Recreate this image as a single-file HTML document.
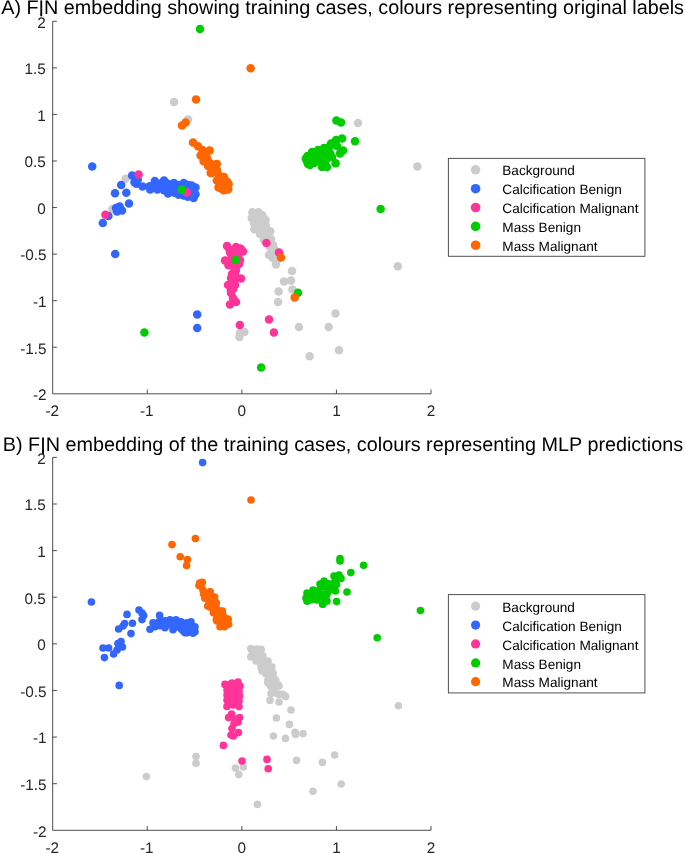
<!DOCTYPE html>
<html><head><meta charset="utf-8"><title>FIN embedding</title>
<style>
html,body{margin:0;padding:0;background:#fff;}
body{width:685px;height:853px;overflow:hidden;}
svg{display:block;font-family:"Liberation Sans",sans-serif;text-rendering:geometricPrecision;will-change:transform;}
</style></head><body>
<svg width="685" height="853" viewBox="0 0 685 853">
<rect width="685" height="853" fill="#fff"/>
<text x="1.2" y="14.3" font-size="19.8" fill="#000">A) FIN embedding showing training cases, colours representing original labels</text>
<text x="2.8" y="450.9" font-size="19.8" fill="#000">B) FIN embedding of the training cases, colours representing MLP predictions</text>
<path d="M41.2 13.5V16.3" stroke="#000" stroke-width="1.9"/><path d="M43.0 450V454.2" stroke="#000" stroke-width="1.9"/>
<g stroke="#4d4d4d" stroke-width="1" fill="none" shape-rendering="auto">
<path d="M52.7 21.3V393.8H431"/>
<path d="M52.7 21.30h4.2"/>
<path d="M52.7 67.86h4.2"/>
<path d="M52.7 114.42h4.2"/>
<path d="M52.7 160.99h4.2"/>
<path d="M52.7 207.55h4.2"/>
<path d="M52.7 254.11h4.2"/>
<path d="M52.7 300.68h4.2"/>
<path d="M52.7 347.24h4.2"/>
<path d="M147.28 393.8v-4.2"/>
<path d="M241.85 393.8v-4.2"/>
<path d="M336.43 393.8v-4.2"/>
<path d="M431.00 393.8v-4.2"/>
</g>
<g fill="#262626" font-size="15.3" text-anchor="end">
<text x="45.8" y="27.60">2</text>
<text x="45.8" y="74.16">1.5</text>
<text x="45.8" y="120.72">1</text>
<text x="45.8" y="167.29">0.5</text>
<text x="45.8" y="213.85">0</text>
<text x="46.6" y="260.41">-0.5</text>
<text x="46.6" y="306.98">-1</text>
<text x="46.6" y="353.54">-1.5</text>
<text x="46.6" y="400.10">-2</text>
</g>
<g fill="#262626" font-size="15.3" text-anchor="middle">
<text x="52.20" y="416.2">-2</text>
<text x="146.78" y="416.2">-1</text>
<text x="241.85" y="416.2">0</text>
<text x="336.43" y="416.2">1</text>
<text x="431.00" y="416.2">2</text>
</g>
<g stroke="#4d4d4d" stroke-width="1" fill="none" shape-rendering="auto">
<path d="M52.7 457.4V830.3H431"/>
<path d="M52.7 457.40h4.2"/>
<path d="M52.7 504.01h4.2"/>
<path d="M52.7 550.62h4.2"/>
<path d="M52.7 597.24h4.2"/>
<path d="M52.7 643.85h4.2"/>
<path d="M52.7 690.46h4.2"/>
<path d="M52.7 737.07h4.2"/>
<path d="M52.7 783.69h4.2"/>
<path d="M147.28 830.3v-4.2"/>
<path d="M241.85 830.3v-4.2"/>
<path d="M336.43 830.3v-4.2"/>
<path d="M431.00 830.3v-4.2"/>
</g>
<g fill="#262626" font-size="15.3" text-anchor="end">
<text x="45.8" y="463.70">2</text>
<text x="45.8" y="510.31">1.5</text>
<text x="45.8" y="556.92">1</text>
<text x="45.8" y="603.54">0.5</text>
<text x="45.8" y="650.15">0</text>
<text x="46.6" y="696.76">-0.5</text>
<text x="46.6" y="743.37">-1</text>
<text x="46.6" y="789.99">-1.5</text>
<text x="46.6" y="836.60">-2</text>
</g>
<g fill="#262626" font-size="15.3" text-anchor="middle">
<text x="52.20" y="852.6">-2</text>
<text x="146.78" y="852.6">-1</text>
<text x="241.85" y="852.6">0</text>
<text x="336.43" y="852.6">1</text>
<text x="431.00" y="852.6">2</text>
</g>
<!-- plot A -->
<g fill="#cccccc">
<circle cx="174" cy="102" r="4.25"/><circle cx="188" cy="119.4" r="4.25"/><circle cx="125.7" cy="178.8" r="4.25"/><circle cx="112.4" cy="209" r="4.25"/><circle cx="358" cy="123" r="4.25"/><circle cx="417.4" cy="166.4" r="4.25"/><circle cx="397.8" cy="266.2" r="4.25"/><circle cx="253" cy="213" r="4.25"/><circle cx="258" cy="213" r="4.25"/><circle cx="262" cy="215" r="4.25"/><circle cx="252" cy="218" r="4.25"/><circle cx="257" cy="219" r="4.25"/><circle cx="263" cy="220" r="4.25"/><circle cx="254" cy="223" r="4.25"/><circle cx="260" cy="224" r="4.25"/><circle cx="266" cy="226" r="4.25"/><circle cx="258" cy="229" r="4.25"/><circle cx="263" cy="230" r="4.25"/><circle cx="269" cy="232" r="4.25"/><circle cx="260" cy="234" r="4.25"/><circle cx="266" cy="236" r="4.25"/><circle cx="271" cy="239" r="4.25"/><circle cx="268" cy="242" r="4.25"/><circle cx="273" cy="245" r="4.25"/><circle cx="275" cy="250" r="4.25"/><circle cx="269" cy="255" r="4.25"/><circle cx="273" cy="258" r="4.25"/><circle cx="277" cy="260" r="4.25"/><circle cx="276" cy="264.4" r="4.25"/><circle cx="272" cy="251" r="4.25"/><circle cx="270" cy="247" r="4.25"/><circle cx="264" cy="240" r="4.25"/><circle cx="292" cy="271" r="4.25"/><circle cx="284" cy="281.6" r="4.25"/><circle cx="291" cy="280.6" r="4.25"/><circle cx="278.6" cy="291.6" r="4.25"/><circle cx="292.4" cy="289.4" r="4.25"/><circle cx="278" cy="302" r="4.25"/><circle cx="335.5" cy="313.4" r="4.25"/><circle cx="299" cy="327" r="4.25"/><circle cx="328.7" cy="327" r="4.25"/><circle cx="244.4" cy="332" r="4.25"/><circle cx="240" cy="333" r="4.25"/><circle cx="239.4" cy="337" r="4.25"/><circle cx="339" cy="350.2" r="4.25"/><circle cx="309.6" cy="356.2" r="4.25"/><circle cx="252.4" cy="212.2" r="4.25"/><circle cx="258.4" cy="212.2" r="4.25"/><circle cx="262.3" cy="215.5" r="4.25"/><circle cx="251.8" cy="218.1" r="4.25"/><circle cx="265.6" cy="220.1" r="4.25"/><circle cx="254.4" cy="229.3" r="4.25"/><circle cx="270.2" cy="231.3" r="4.25"/>
</g>
<g fill="#3366ff">
<circle cx="92.2" cy="166.4" r="4.25"/><circle cx="132.1" cy="175.5" r="4.25"/><circle cx="137.8" cy="179.5" r="4.25"/><circle cx="134.5" cy="182.3" r="4.25"/><circle cx="136.2" cy="183.7" r="4.25"/><circle cx="121.2" cy="185.1" r="4.25"/><circle cx="115" cy="193.2" r="4.25"/><circle cx="126.3" cy="192.8" r="4.25"/><circle cx="129" cy="203.5" r="4.25"/><circle cx="116" cy="208" r="4.25"/><circle cx="119.6" cy="206.4" r="4.25"/><circle cx="122" cy="210.6" r="4.25"/><circle cx="117" cy="211.6" r="4.25"/><circle cx="119" cy="209.6" r="4.25"/><circle cx="108.4" cy="216" r="4.25"/><circle cx="102.8" cy="223" r="4.25"/><circle cx="115.2" cy="254" r="4.25"/><circle cx="142.5" cy="186.4" r="4.25"/><circle cx="149.6" cy="186.3" r="4.25"/><circle cx="150.2" cy="189.6" r="4.25"/><circle cx="154.8" cy="181" r="4.25"/><circle cx="154.8" cy="186.3" r="4.25"/><circle cx="157.4" cy="189.6" r="4.25"/><circle cx="159.4" cy="183.7" r="4.25"/><circle cx="164" cy="180.4" r="4.25"/><circle cx="164" cy="185.6" r="4.25"/><circle cx="164" cy="190.2" r="4.25"/><circle cx="168" cy="183.7" r="4.25"/><circle cx="168" cy="193.5" r="4.25"/><circle cx="170.6" cy="188.2" r="4.25"/><circle cx="173.9" cy="183" r="4.25"/><circle cx="173.9" cy="188.9" r="4.25"/><circle cx="174.5" cy="192.8" r="4.25"/><circle cx="178.5" cy="185" r="4.25"/><circle cx="178.5" cy="194.8" r="4.25"/><circle cx="183.7" cy="183" r="4.25"/><circle cx="183.7" cy="195.5" r="4.25"/><circle cx="188.3" cy="185" r="4.25"/><circle cx="187.7" cy="196.8" r="4.25"/><circle cx="191.6" cy="185.6" r="4.25"/><circle cx="192.3" cy="190.9" r="4.25"/><circle cx="193.6" cy="198.1" r="4.25"/><circle cx="195.5" cy="187.6" r="4.25"/><circle cx="195.5" cy="194.2" r="4.25"/><circle cx="191" cy="194.2" r="4.25"/><circle cx="181" cy="189" r="4.25"/><circle cx="186" cy="190" r="4.25"/><circle cx="160" cy="187" r="4.25"/><circle cx="197.2" cy="314.4" r="4.25"/><circle cx="197.2" cy="328" r="4.25"/><circle cx="231" cy="290.7" r="4.25"/>
</g>
<g fill="#ff3399">
<circle cx="138.6" cy="174.6" r="4.25"/><circle cx="105.4" cy="214.8" r="4.25"/><circle cx="187" cy="192.4" r="4.25"/><circle cx="266.4" cy="243" r="4.25"/><circle cx="279" cy="252.4" r="4.25"/><circle cx="227" cy="246" r="4.25"/><circle cx="236" cy="247" r="4.25"/><circle cx="241" cy="249" r="4.25"/><circle cx="243" cy="251.6" r="4.25"/><circle cx="230" cy="252.4" r="4.25"/><circle cx="238" cy="254" r="4.25"/><circle cx="225" cy="260.4" r="4.25"/><circle cx="230" cy="260" r="4.25"/><circle cx="240" cy="260" r="4.25"/><circle cx="235" cy="258" r="4.25"/><circle cx="239" cy="264" r="4.25"/><circle cx="233" cy="266" r="4.25"/><circle cx="236" cy="270" r="4.25"/><circle cx="232" cy="274" r="4.25"/><circle cx="231" cy="278" r="4.25"/><circle cx="241" cy="278.6" r="4.25"/><circle cx="236" cy="279" r="4.25"/><circle cx="232" cy="282" r="4.25"/><circle cx="228" cy="285" r="4.25"/><circle cx="235" cy="285" r="4.25"/><circle cx="233" cy="289" r="4.25"/><circle cx="231" cy="293" r="4.25"/><circle cx="233" cy="298" r="4.25"/><circle cx="236" cy="302" r="4.25"/><circle cx="230" cy="304.4" r="4.25"/><circle cx="234" cy="262" r="4.25"/><circle cx="235" cy="275" r="4.25"/><circle cx="234.7" cy="249.7" r="4.25"/><circle cx="229.5" cy="249.7" r="4.25"/><circle cx="240" cy="248.4" r="4.25"/><circle cx="234.7" cy="268" r="4.25"/><circle cx="269" cy="319.4" r="4.25"/><circle cx="239.8" cy="325" r="4.25"/><circle cx="273.9" cy="332.5" r="4.25"/><circle cx="228.5" cy="265.3" r="4.25"/>
</g>
<g fill="#00cc00">
<circle cx="200" cy="29" r="4.25"/><circle cx="181.7" cy="189.4" r="4.25"/><circle cx="235.4" cy="260" r="4.25"/><circle cx="298" cy="292.7" r="4.25"/><circle cx="144.4" cy="332.4" r="4.25"/><circle cx="261.1" cy="367.4" r="4.25"/><circle cx="380.6" cy="208.9" r="4.25"/><circle cx="336.4" cy="120.4" r="4.25"/><circle cx="341" cy="122.4" r="4.25"/><circle cx="355" cy="141.2" r="4.25"/><circle cx="342" cy="138.4" r="4.25"/><circle cx="336" cy="140" r="4.25"/><circle cx="333" cy="144" r="4.25"/><circle cx="343" cy="150.6" r="4.25"/><circle cx="340" cy="153.4" r="4.25"/><circle cx="335.6" cy="163.2" r="4.25"/><circle cx="307.5" cy="156" r="4.25"/><circle cx="306.8" cy="161" r="4.25"/><circle cx="308" cy="164" r="4.25"/><circle cx="312" cy="152" r="4.25"/><circle cx="313" cy="158" r="4.25"/><circle cx="314" cy="163" r="4.25"/><circle cx="318" cy="150" r="4.25"/><circle cx="319" cy="156" r="4.25"/><circle cx="320" cy="162" r="4.25"/><circle cx="322" cy="167" r="4.25"/><circle cx="324" cy="148" r="4.25"/><circle cx="325" cy="154" r="4.25"/><circle cx="326" cy="160" r="4.25"/><circle cx="327" cy="167" r="4.25"/><circle cx="330" cy="146" r="4.25"/><circle cx="330" cy="153" r="4.25"/><circle cx="332" cy="157" r="4.25"/><circle cx="335" cy="142" r="4.25"/><circle cx="337" cy="146" r="4.25"/><circle cx="305.8" cy="158.5" r="4.25"/><circle cx="310" cy="165" r="4.25"/><circle cx="331" cy="143.5" r="4.25"/>
</g>
<g fill="#ff6600">
<circle cx="250.6" cy="68.2" r="4.25"/><circle cx="196" cy="99.4" r="4.25"/><circle cx="185.6" cy="122.4" r="4.25"/><circle cx="182" cy="125.6" r="4.25"/><circle cx="281" cy="257.5" r="4.25"/><circle cx="294.7" cy="297.6" r="4.25"/><circle cx="193" cy="142.6" r="4.25"/><circle cx="198" cy="146.2" r="4.25"/><circle cx="202.4" cy="150" r="4.25"/><circle cx="209.6" cy="150.6" r="4.25"/><circle cx="202" cy="155" r="4.25"/><circle cx="207" cy="158" r="4.25"/><circle cx="210" cy="163" r="4.25"/><circle cx="216" cy="164.4" r="4.25"/><circle cx="212" cy="169" r="4.25"/><circle cx="217" cy="170" r="4.25"/><circle cx="212" cy="173" r="4.25"/><circle cx="219" cy="175" r="4.25"/><circle cx="224" cy="177" r="4.25"/><circle cx="218" cy="180" r="4.25"/><circle cx="227" cy="181.6" r="4.25"/><circle cx="220" cy="186" r="4.25"/><circle cx="226" cy="187" r="4.25"/><circle cx="228" cy="185" r="4.25"/><circle cx="222" cy="189" r="4.25"/><circle cx="227" cy="189.6" r="4.25"/><circle cx="206" cy="153" r="4.25"/><circle cx="214" cy="167" r="4.25"/><circle cx="222" cy="181" r="4.25"/><circle cx="224" cy="184" r="4.25"/><circle cx="200.6" cy="155.6" r="4.25"/><circle cx="203.6" cy="161.3" r="4.25"/><circle cx="208" cy="166.1" r="4.25"/><circle cx="210.7" cy="173.1" r="4.25"/><circle cx="216.8" cy="180.5" r="4.25"/><circle cx="218.5" cy="187.6" r="4.25"/><circle cx="223.8" cy="190.2" r="4.25"/><circle cx="228.2" cy="189.3" r="4.25"/><circle cx="216.8" cy="163.9" r="4.25"/><circle cx="228.6" cy="184" r="4.25"/>
</g>
<!-- plot B -->
<g fill="#cccccc">
<circle cx="252" cy="650" r="3.8"/><circle cx="257" cy="649" r="3.8"/><circle cx="261" cy="650" r="3.8"/><circle cx="252" cy="655" r="3.8"/><circle cx="258" cy="656" r="3.8"/><circle cx="263" cy="656" r="3.8"/><circle cx="256" cy="661" r="3.8"/><circle cx="262" cy="662" r="3.8"/><circle cx="268" cy="661" r="3.8"/><circle cx="261" cy="667" r="3.8"/><circle cx="267" cy="668" r="3.8"/><circle cx="272" cy="667" r="3.8"/><circle cx="266" cy="674" r="3.8"/><circle cx="272" cy="675" r="3.8"/><circle cx="270" cy="680" r="3.8"/><circle cx="276" cy="681" r="3.8"/><circle cx="273" cy="687" r="3.8"/><circle cx="279" cy="686" r="3.8"/><circle cx="272" cy="693" r="3.8"/><circle cx="278" cy="694" r="3.8"/><circle cx="283" cy="694.4" r="3.8"/><circle cx="262" cy="671" r="3.8"/><circle cx="268" cy="672" r="3.8"/><circle cx="273" cy="673" r="3.8"/><circle cx="269" cy="678" r="3.8"/><circle cx="274" cy="679" r="3.8"/><circle cx="268" cy="683" r="3.8"/><circle cx="273" cy="685" r="3.8"/><circle cx="278.4" cy="685" r="3.8"/><circle cx="274" cy="690" r="3.8"/><circle cx="271" cy="693.6" r="3.8"/><circle cx="279" cy="694.4" r="3.8"/><circle cx="285.6" cy="696.4" r="3.8"/><circle cx="270" cy="700.4" r="3.8"/><circle cx="279" cy="702" r="3.8"/><circle cx="251.8" cy="649.2" r="3.8"/><circle cx="261" cy="649.2" r="3.8"/><circle cx="251.8" cy="655.8" r="3.8"/><circle cx="261" cy="654.5" r="3.8"/><circle cx="255.7" cy="651.8" r="3.8"/><circle cx="258.4" cy="661" r="3.8"/><circle cx="267.6" cy="662.3" r="3.8"/><circle cx="270.2" cy="667.6" r="3.8"/><circle cx="262.3" cy="668.2" r="3.8"/><circle cx="272.8" cy="674.2" r="3.8"/><circle cx="274.8" cy="679.4" r="3.8"/><circle cx="267.6" cy="680.7" r="3.8"/><circle cx="270.8" cy="686.6" r="3.8"/><circle cx="276.8" cy="686" r="3.8"/><circle cx="291" cy="710" r="3.8"/><circle cx="276.4" cy="718" r="3.8"/><circle cx="289.4" cy="724.4" r="3.8"/><circle cx="295" cy="732.4" r="3.8"/><circle cx="295.6" cy="734.4" r="3.8"/><circle cx="303" cy="733.6" r="3.8"/><circle cx="273.4" cy="736" r="3.8"/><circle cx="285.4" cy="738.4" r="3.8"/><circle cx="296.6" cy="760.4" r="3.8"/><circle cx="322.4" cy="762.4" r="3.8"/><circle cx="334.6" cy="755" r="3.8"/><circle cx="243.4" cy="767" r="3.8"/><circle cx="235.4" cy="768" r="3.8"/><circle cx="238.8" cy="774.4" r="3.8"/><circle cx="313" cy="791.3" r="3.8"/><circle cx="257.4" cy="804.4" r="3.8"/><circle cx="146.4" cy="776.6" r="3.8"/><circle cx="196" cy="756.6" r="3.8"/><circle cx="196" cy="763.2" r="3.8"/><circle cx="398.4" cy="705.8" r="3.8"/><circle cx="341.2" cy="784" r="3.8"/><circle cx="250.8" cy="648.6" r="3.8"/><circle cx="250.8" cy="657" r="3.8"/>
</g>
<g fill="#3366ff">
<circle cx="202.6" cy="462.6" r="3.8"/><circle cx="91.4" cy="602" r="3.8"/><circle cx="127" cy="614.4" r="3.8"/><circle cx="139" cy="610" r="3.8"/><circle cx="142" cy="613" r="3.8"/><circle cx="143.6" cy="615.6" r="3.8"/><circle cx="142" cy="619.6" r="3.8"/><circle cx="132.4" cy="623.2" r="3.8"/><circle cx="124.6" cy="623.6" r="3.8"/><circle cx="123" cy="626" r="3.8"/><circle cx="118.6" cy="629" r="3.8"/><circle cx="131" cy="633.6" r="3.8"/><circle cx="121" cy="641.6" r="3.8"/><circle cx="118" cy="643.6" r="3.8"/><circle cx="122.4" cy="647" r="3.8"/><circle cx="119" cy="647" r="3.8"/><circle cx="117" cy="650" r="3.8"/><circle cx="113.6" cy="654" r="3.8"/><circle cx="103" cy="648" r="3.8"/><circle cx="108.6" cy="648" r="3.8"/><circle cx="104.4" cy="657.6" r="3.8"/><circle cx="119.2" cy="685.4" r="3.8"/><circle cx="150" cy="629.2" r="3.8"/><circle cx="153" cy="622.8" r="3.8"/><circle cx="155" cy="626.8" r="3.8"/><circle cx="159.6" cy="615.4" r="3.8"/><circle cx="159" cy="621.8" r="3.8"/><circle cx="160" cy="625.8" r="3.8"/><circle cx="165" cy="620.8" r="3.8"/><circle cx="165" cy="627.8" r="3.8"/><circle cx="170" cy="619.8" r="3.8"/><circle cx="170" cy="624.8" r="3.8"/><circle cx="173" cy="629.8" r="3.8"/><circle cx="176" cy="619.8" r="3.8"/><circle cx="176" cy="625.8" r="3.8"/><circle cx="181" cy="621.8" r="3.8"/><circle cx="181" cy="628.8" r="3.8"/><circle cx="185" cy="624.8" r="3.8"/><circle cx="185" cy="632.8" r="3.8"/><circle cx="178" cy="626.8" r="3.8"/><circle cx="182" cy="622.8" r="3.8"/><circle cx="183" cy="630.8" r="3.8"/><circle cx="187" cy="622.8" r="3.8"/><circle cx="187" cy="632.8" r="3.8"/><circle cx="191" cy="621.8" r="3.8"/><circle cx="192" cy="627.8" r="3.8"/><circle cx="193" cy="633.2" r="3.8"/><circle cx="195" cy="626.8" r="3.8"/><circle cx="195" cy="631.8" r="3.8"/><circle cx="189" cy="627.8" r="3.8"/><circle cx="168" cy="622.8" r="3.8"/>
</g>
<g fill="#ff3399">
<circle cx="225" cy="684.4" r="3.8"/><circle cx="231" cy="684" r="3.8"/><circle cx="238" cy="682" r="3.8"/><circle cx="240" cy="686" r="3.8"/><circle cx="227" cy="690" r="3.8"/><circle cx="233" cy="689" r="3.8"/><circle cx="239" cy="691" r="3.8"/><circle cx="227" cy="695" r="3.8"/><circle cx="233" cy="695" r="3.8"/><circle cx="239.6" cy="696" r="3.8"/><circle cx="227" cy="700" r="3.8"/><circle cx="233" cy="700" r="3.8"/><circle cx="239" cy="701" r="3.8"/><circle cx="227" cy="706.4" r="3.8"/><circle cx="233" cy="705" r="3.8"/><circle cx="239" cy="706.6" r="3.8"/><circle cx="232" cy="683" r="3.8"/><circle cx="235" cy="686" r="3.8"/><circle cx="232.1" cy="695.2" r="3.8"/><circle cx="228.1" cy="688.6" r="3.8"/><circle cx="237.3" cy="688.6" r="3.8"/><circle cx="232.1" cy="701.8" r="3.8"/><circle cx="234.7" cy="722.8" r="3.8"/><circle cx="231.6" cy="714" r="3.8"/><circle cx="228.6" cy="717.6" r="3.8"/><circle cx="239.6" cy="717.6" r="3.8"/><circle cx="235" cy="719" r="3.8"/><circle cx="238" cy="722" r="3.8"/><circle cx="234" cy="723.6" r="3.8"/><circle cx="232" cy="728.6" r="3.8"/><circle cx="238.4" cy="732.6" r="3.8"/><circle cx="233.4" cy="736" r="3.8"/><circle cx="231" cy="735" r="3.8"/><circle cx="223.4" cy="745.4" r="3.8"/><circle cx="242" cy="761" r="3.8"/><circle cx="267" cy="759.4" r="3.8"/><circle cx="268.2" cy="768.8" r="3.8"/>
</g>
<g fill="#00cc00">
<circle cx="340" cy="558.6" r="3.8"/><circle cx="340" cy="561" r="3.8"/><circle cx="363.6" cy="565.2" r="3.8"/><circle cx="350.8" cy="572.6" r="3.8"/><circle cx="347" cy="592" r="3.8"/><circle cx="336.6" cy="601.6" r="3.8"/><circle cx="420.4" cy="610.6" r="3.8"/><circle cx="377.2" cy="637.8" r="3.8"/><circle cx="334" cy="576" r="3.8"/><circle cx="339" cy="575" r="3.8"/><circle cx="341" cy="578.4" r="3.8"/><circle cx="335" cy="581" r="3.8"/><circle cx="330" cy="584" r="3.8"/><circle cx="324" cy="581" r="3.8"/><circle cx="320" cy="584" r="3.8"/><circle cx="325" cy="587" r="3.8"/><circle cx="331" cy="589" r="3.8"/><circle cx="335.4" cy="591" r="3.8"/><circle cx="313" cy="590" r="3.8"/><circle cx="319" cy="590" r="3.8"/><circle cx="307" cy="593" r="3.8"/><circle cx="313" cy="595" r="3.8"/><circle cx="319" cy="595" r="3.8"/><circle cx="325" cy="594" r="3.8"/><circle cx="306" cy="598" r="3.8"/><circle cx="311" cy="600" r="3.8"/><circle cx="317" cy="600" r="3.8"/><circle cx="327" cy="601" r="3.8"/><circle cx="323" cy="604" r="3.8"/><circle cx="307" cy="601" r="3.8"/><circle cx="321" cy="598" r="3.8"/><circle cx="328" cy="592" r="3.8"/><circle cx="327.7" cy="583.7" r="3.8"/><circle cx="313.4" cy="596" r="3.8"/><circle cx="319.5" cy="599" r="3.8"/><circle cx="322.6" cy="604.2" r="3.8"/><circle cx="307.3" cy="601.1" r="3.8"/><circle cx="326.7" cy="595" r="3.8"/><circle cx="336.5" cy="584.5" r="3.8"/>
</g>
<g fill="#ff6600">
<circle cx="251" cy="500" r="3.8"/><circle cx="195.4" cy="538.6" r="3.8"/><circle cx="172" cy="544.6" r="3.8"/><circle cx="180.2" cy="556.8" r="3.8"/><circle cx="187.4" cy="559.6" r="3.8"/><circle cx="186.6" cy="565.6" r="3.8"/><circle cx="199.6" cy="583" r="3.8"/><circle cx="201" cy="586" r="3.8"/><circle cx="203" cy="590" r="3.8"/><circle cx="204" cy="594" r="3.8"/><circle cx="210" cy="592" r="3.8"/><circle cx="207" cy="598" r="3.8"/><circle cx="213" cy="597" r="3.8"/><circle cx="209" cy="603" r="3.8"/><circle cx="215" cy="602" r="3.8"/><circle cx="210" cy="607" r="3.8"/><circle cx="216" cy="607" r="3.8"/><circle cx="214" cy="612" r="3.8"/><circle cx="220" cy="611" r="3.8"/><circle cx="217" cy="617" r="3.8"/><circle cx="223" cy="615" r="3.8"/><circle cx="217" cy="621" r="3.8"/><circle cx="227" cy="619" r="3.8"/><circle cx="221" cy="625" r="3.8"/><circle cx="227" cy="624" r="3.8"/><circle cx="224" cy="626" r="3.8"/><circle cx="206" cy="596" r="3.8"/><circle cx="212" cy="607" r="3.8"/><circle cx="222" cy="620" r="3.8"/><circle cx="202.3" cy="582.3" r="3.8"/><circle cx="199" cy="585.6" r="3.8"/><circle cx="203.5" cy="593.8" r="3.8"/><circle cx="204.8" cy="598.3" r="3.8"/><circle cx="207.7" cy="606.1" r="3.8"/><circle cx="213.4" cy="612.7" r="3.8"/><circle cx="216.3" cy="619.7" r="3.8"/><circle cx="220" cy="626.7" r="3.8"/><circle cx="224.5" cy="626.7" r="3.8"/><circle cx="228.2" cy="619.3" r="3.8"/><circle cx="228.6" cy="624.2" r="3.8"/><circle cx="222.4" cy="611" r="3.8"/><circle cx="216.3" cy="602.8" r="3.8"/><circle cx="214.6" cy="597.1" r="3.8"/><circle cx="210.1" cy="591.8" r="3.8"/>
</g>
<rect x="448.4" y="158.4" width="196.5" height="97.9" fill="#fff" stroke="#505050" stroke-width="1"/>
<circle cx="475.6" cy="169.8" r="4.8" fill="#cccccc"/>
<text x="502.3" y="175.40" font-size="13.62" fill="#000">Background</text>
<circle cx="475.6" cy="188.7" r="4.8" fill="#3366ff"/>
<text x="502.3" y="194.30" font-size="13.62" fill="#000">Calcification Benign</text>
<circle cx="475.6" cy="207.5" r="4.8" fill="#ff3399"/>
<text x="502.3" y="213.10" font-size="13.62" fill="#000">Calcification Malignant</text>
<circle cx="475.6" cy="226.4" r="4.8" fill="#00cc00"/>
<text x="502.3" y="232.00" font-size="13.62" fill="#000">Mass Benign</text>
<circle cx="475.6" cy="245.2" r="4.8" fill="#ff6600"/>
<text x="502.3" y="250.80" font-size="13.62" fill="#000">Mass Malignant</text>
<rect x="448.4" y="594.6" width="196.5" height="98.29999999999995" fill="#fff" stroke="#505050" stroke-width="1"/>
<circle cx="475.6" cy="606.2" r="4.6" fill="#cccccc"/>
<text x="502.3" y="611.80" font-size="13.62" fill="#000">Background</text>
<circle cx="475.6" cy="625.1" r="4.6" fill="#3366ff"/>
<text x="502.3" y="630.70" font-size="13.62" fill="#000">Calcification Benign</text>
<circle cx="475.6" cy="643.9" r="4.6" fill="#ff3399"/>
<text x="502.3" y="649.50" font-size="13.62" fill="#000">Calcification Malignant</text>
<circle cx="475.6" cy="662.9" r="4.6" fill="#00cc00"/>
<text x="502.3" y="668.50" font-size="13.62" fill="#000">Mass Benign</text>
<circle cx="475.6" cy="681.7" r="4.6" fill="#ff6600"/>
<text x="502.3" y="687.30" font-size="13.62" fill="#000">Mass Malignant</text>
</svg>
</body></html>
